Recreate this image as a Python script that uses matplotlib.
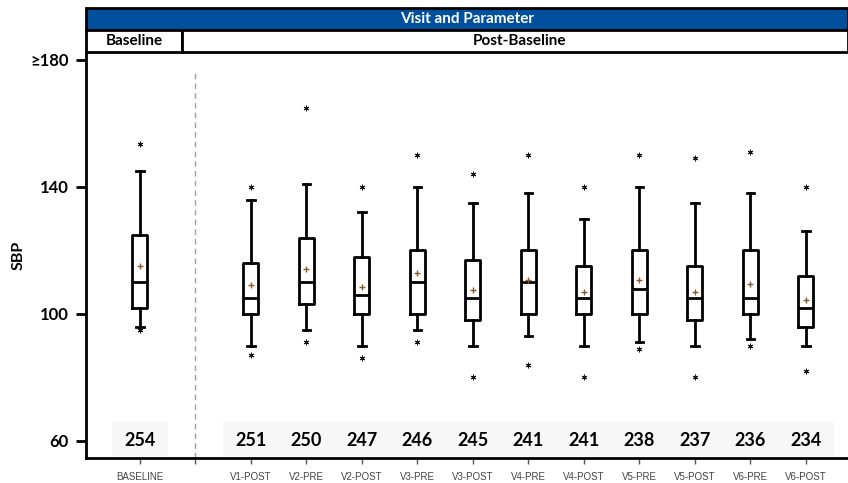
import numpy as np
import matplotlib
matplotlib.use('Agg')
import matplotlib.pyplot as plt
from matplotlib.patches import Rectangle

plt.rcParams['font.family'] = ['Lato', 'DejaVu Sans']

# data
visits = ['BASELINE', 'V1-POST', 'V2-PRE', 'V2-POST', 'V3-PRE', 'V3-POST',
          'V4-PRE', 'V4-POST', 'V5-PRE', 'V5-POST', 'V6-PRE', 'V6-POST']
counts = [254, 251, 250, 247, 246, 245, 241, 241, 238, 237, 236, 234]
whis_lo = [96, 90, 95, 90, 95, 90, 93, 90, 91, 90, 92, 90]
q1 = [102, 100, 103, 100, 100, 98, 100, 100, 100, 98, 100, 96]
med = [110, 105, 110, 106, 110, 105, 110, 105, 108, 105, 105, 102]
q3 = [125, 116, 124, 118, 120, 117, 120, 115, 120, 115, 120, 112]
whis_hi = [145, 136, 141, 132, 140, 135, 138, 130, 140, 135, 138, 126]
means = [115, 109, 114, 108.4, 112.8, 107.5, 110.6, 107, 110.6, 106.8, 109.3, 104.4]
out_hi = [153.5, 140, 165, 140, 150, 144, 150, 140, 150, 149, 151, 140]
out_lo = [95, 87, 91, 86, 91, 80, 84, 80, 89, 80, 90, 82]

positions = [0] + list(range(2, 13))

stats = []
for i in range(len(visits)):
    stats.append(dict(med=med[i], q1=q1[i], q3=q3[i], whislo=whis_lo[i],
                      whishi=whis_hi[i], mean=means[i],
                      fliers=[out_lo[i], out_hi[i]]))

fig = plt.figure(figsize=(8.48, 4.83), dpi=100)
ax = fig.add_axes([86 / 848, 1 - 458 / 483, 1 - 86 / 848, (458 - 53) / 483])

black = dict(color='black', linewidth=2)
ax.bxp(stats, positions=positions, widths=0.27, showmeans=True,
       boxprops=black, whiskerprops=black, capprops=black,
       medianprops=dict(color='black', linewidth=2),
       meanprops=dict(marker='+', markeredgecolor='#8B5A2B', markersize=5, markeredgewidth=1),
       flierprops=dict(marker=(6, 2, 0), markeredgecolor='#111111', markersize=4, markeredgewidth=0.7),
       manage_ticks=False)

# count band
ax.add_patch(Rectangle((-0.5, 55.2), 1.0, 10.8, facecolor='#F7F7F7', edgecolor='none', zorder=0))
ax.add_patch(Rectangle((1.5, 55.2), 11.0, 10.8, facecolor='#F7F7F7', edgecolor='none', zorder=0))
for p, n in zip(positions, counts):
    ax.text(p, 60, str(n), ha='center', va='center', fontsize=13, fontweight='bold')

ax.axvline(1, ymin=0, ymax=0.95, color='#A0A0A0', linestyle=(0, (4, 3)), linewidth=1)

ax.set_xlim(-0.97, 12.76)
ax.set_ylim(54.6, 182.2)
ax.set_yticks([60, 100, 140, 180])
ax.set_yticklabels(['60', '100', '140', '\u2265180'], fontsize=12, fontweight='bold')
ax.set_xticks([0, 1] + positions[1:])
ax.set_xticklabels([visits[0], ''] + visits[1:], fontsize=7, color='#444444',
                   family=['Liberation Sans', 'DejaVu Sans'])
ax.tick_params(axis='y', length=7.5, width=2, pad=5)
ax.tick_params(axis='x', length=4, width=1, pad=6, color='#555555')
ax.set_ylabel('SBP', fontsize=11.5, fontweight='bold', labelpad=3.5)
for s in ['top', 'right']:
    ax.spines[s].set_visible(False)
ax.spines['left'].set_linewidth(2)
ax.spines['bottom'].set_linewidth(2)

# header
hx0 = 86 / 848
fig.patches.append(Rectangle((hx0, 1 - 30 / 483), 1 - hx0, 22 / 483, transform=fig.transFigure,
                             facecolor='#00509E', edgecolor='black', linewidth=2))
fig.patches.append(Rectangle((hx0, 1 - 52 / 483), (182 - 86) / 848, 22 / 483, transform=fig.transFigure,
                             facecolor='white', edgecolor='black', linewidth=2))
fig.patches.append(Rectangle((182 / 848, 1 - 52 / 483), 1 - 182 / 848, 22 / 483, transform=fig.transFigure,
                             facecolor='white', edgecolor='black', linewidth=2))
fig.text(467 / 848, 1 - 19 / 483, 'Visit and Parameter', ha='center', va='center',
         color='white', fontsize=11, fontweight='bold')
fig.text(134 / 848, 1 - 41 / 483, 'Baseline', ha='center', va='center',
         color='black', fontsize=11, fontweight='bold')
fig.text(520 / 848, 1 - 41 / 483, 'Post-Baseline', ha='center', va='center',
         color='black', fontsize=11, fontweight='bold')

fig.savefig('out.png', dpi=100)
